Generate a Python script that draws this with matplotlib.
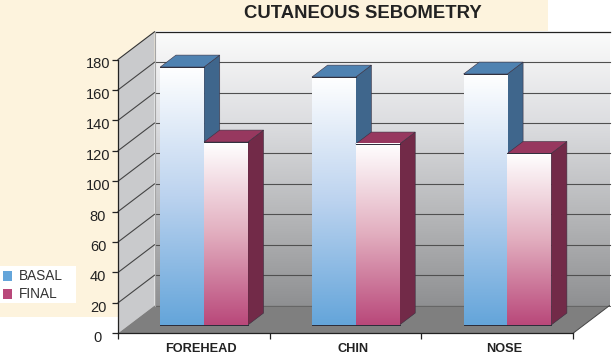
import matplotlib
matplotlib.use('Agg')
import matplotlib.pyplot as plt
from matplotlib.patches import Polygon, Rectangle
from matplotlib.colors import LinearSegmentedColormap
from matplotlib.transforms import ScaledTranslation
import numpy as np

plt.rcParams['font.family'] = ['Liberation Sans', 'DejaVu Sans']

# values
categories = ['FOREHEAD', 'CHIN', 'NOSE']
basal = [169.6, 163, 165]
final = [120.3, 119, 112.8]
y_ticks = [0, 20, 40, 60, 80, 100, 120, 140, 160, 180]

W, H = 615, 359
fig = plt.figure(figsize=(W / 100, H / 100), dpi=100, facecolor='white')

# cream background pieces + legend, in figure pixels
bg = fig.add_axes([0, 0, 1, 1])
bg.set_xlim(0, W)
bg.set_ylim(H, 0)
bg.axis('off')
bg.add_patch(Rectangle((0, 0), 548, 31, fc='#fdf3dd', ec='none'))
bg.add_patch(Rectangle((0, 0), 155, 62, fc='#fdf3dd', ec='none'))
bg.add_patch(Rectangle((0, 0), 118, 317, fc='#fdf3dd', ec='none'))
bg.add_patch(Rectangle((0, 266), 76, 37, fc='white', ec='none'))
bg.add_patch(Rectangle((3, 271), 9, 10, fc='#64a5da', ec='none'))
bg.add_patch(Rectangle((3, 289), 9, 10, fc='#b9487a', ec='none'))
bg.text(19, 276, 'BASAL', fontsize=9.8, color='#333333', va='center', ha='left')
bg.text(19, 294, 'FINAL', fontsize=9.8, color='#333333', va='center', ha='left')
bg.text(362.5, 13.5, 'CUTANEOUS SEBOMETRY', fontsize=13.3, fontweight='bold',
        color='#222222', ha='center', va='center')

# main axes = front plane of the 3d box
ax = fig.add_axes([118 / W, 1 - 333.3 / H, 455 / W, 273.8 / H])
ax.patch.set_alpha(0)
ax.set_xlim(0, 3)
ax.set_ylim(0, 180)
for s in ['top', 'right']:
    ax.spines[s].set_visible(False)
for s in ['left', 'bottom']:
    ax.spines[s].set_linewidth(0.9)
    ax.spines[s].set_color('#222222')
    ax.spines[s].set_zorder(20)

DX = 36.5 / (455 / 3)
DY = 27.7 / (273.8 / 180)
YMAX = y_ticks[-1]

ramp_wall = LinearSegmentedColormap.from_list('wall', ['#fbfbfb', '#dcdde0', '#b6b7b9', '#8f9092'])
ramp_basal = LinearSegmentedColormap.from_list('basal', ['#ffffff', '#bcd3ef', '#64a5da'])
ramp_final = LinearSegmentedColormap.from_list('final', ['#ffffff', '#e2aebf', '#b9487a'])
grad = np.linspace(0, 1, 256).reshape(-1, 1)


def poly(pts, fc, z, ec='none', lw=0.0):
    ax.add_patch(Polygon(pts, closed=True, fc=fc, ec=ec, lw=lw, zorder=z, clip_on=False))


# back wall
ax.imshow(grad, cmap=ramp_wall, aspect='auto', zorder=1, clip_on=False,
          extent=[DX, 3 + DX, DY, YMAX + DY])
# left wall and floor
poly([(0, 0), (DX, DY), (DX, YMAX + DY), (0, YMAX)], '#c9cacc', 2)
poly([(0, 0), (3, 0), (3 + DX, DY), (DX, DY)], '#7f7f7f', 2)
ax.plot([DX, 3 + DX], [YMAX + DY] * 2, color='#222222', lw=0.9, zorder=3, clip_on=False)
ax.plot([0, DX], [YMAX, YMAX + DY], color='#333333', lw=0.8, zorder=3, clip_on=False)

# grid on both walls
for v in y_ticks[1:-1]:
    ax.plot([0, DX], [v, v + DY], color='#444444', lw=0.8, zorder=3, clip_on=False)
    ax.plot([DX, 3 + DX], [v + DY, v + DY], color='#505050', lw=0.8, zorder=3, clip_on=False)
ax.plot([DX, 3 + DX], [DY, DY], color='#666666', lw=0.7, zorder=3, clip_on=False)
ax.plot([3, 3 + DX], [0, DY], color='#444444', lw=0.7, zorder=3, clip_on=False)
ax.plot([DX, DX], [DY, YMAX + DY], color='#a5a5a5', lw=0.8, zorder=3, clip_on=False)

# bars
bar_w = 43.8 / (455 / 3)
front = 0.3
back = 0.73
series = [(basal, -bar_w, ramp_basal, '#3f668c', '#4f82b1'),
          (final, 0, ramp_final, '#722a48', '#97385f')]
for i in range(len(categories)):
    cx = i + 0.5 + 0.28 * DX
    base = front * DY
    ddx = (back - front) * DX
    ddy = (back - front) * DY
    for j, (vals, off, ramp, side, top) in enumerate(series):
        x0 = cx + off
        x1 = x0 + bar_w
        y1 = base + vals[i]
        z = 5 + j * 2
        ec = '#2b2b38'
        poly([(x1, base), (x1 + ddx, base + ddy), (x1 + ddx, y1 + ddy), (x1, y1)], side, z, '#3a3040', 0.4)
        poly([(x0, y1), (x1, y1), (x1 + ddx, y1 + ddy), (x0 + ddx, y1 + ddy)], top, z, '#3a3040', 0.4)
        ax.imshow(grad, cmap=ramp, aspect='auto', zorder=z + 1, clip_on=False,
                  extent=[x0, x1, base, y1])
        ax.plot([x0, x1], [y1, y1], color=ec, lw=0.7, zorder=z + 1.5, clip_on=False)
        ax.plot([x0, x1], [base, base], color=ec, lw=0.7, zorder=z + 1.5, clip_on=False)

ax.set_xlim(0, 3)
ax.set_ylim(0, 180)

ax.set_yticks(y_ticks)
ax.tick_params(axis='y', labelsize=10.5, length=4, width=0.9, pad=10.4, colors='#222222')
shift = ScaledTranslation(0, -2.5 / 72 * 0.72 * 1.4, fig.dpi_scale_trans)
for lab in ax.get_yticklabels():
    lab.set_ha('center')
    lab.set_transform(lab.get_transform() + shift)
ax.set_xticks([0, 1, 2, 3])
ax.set_xticklabels([])
ax.tick_params(axis='x', which='major', length=4, width=0.9, color='#222222')
ax.set_xticks([i + 0.5 + 0.3 * DX * 0.65 for i in range(len(categories))], minor=True)
ax.set_xticklabels(categories, minor=True, fontsize=9.2, fontweight='bold', color='#222222')
ax.tick_params(axis='x', which='minor', length=0, pad=7)

fig.savefig('out.png', dpi=100)
